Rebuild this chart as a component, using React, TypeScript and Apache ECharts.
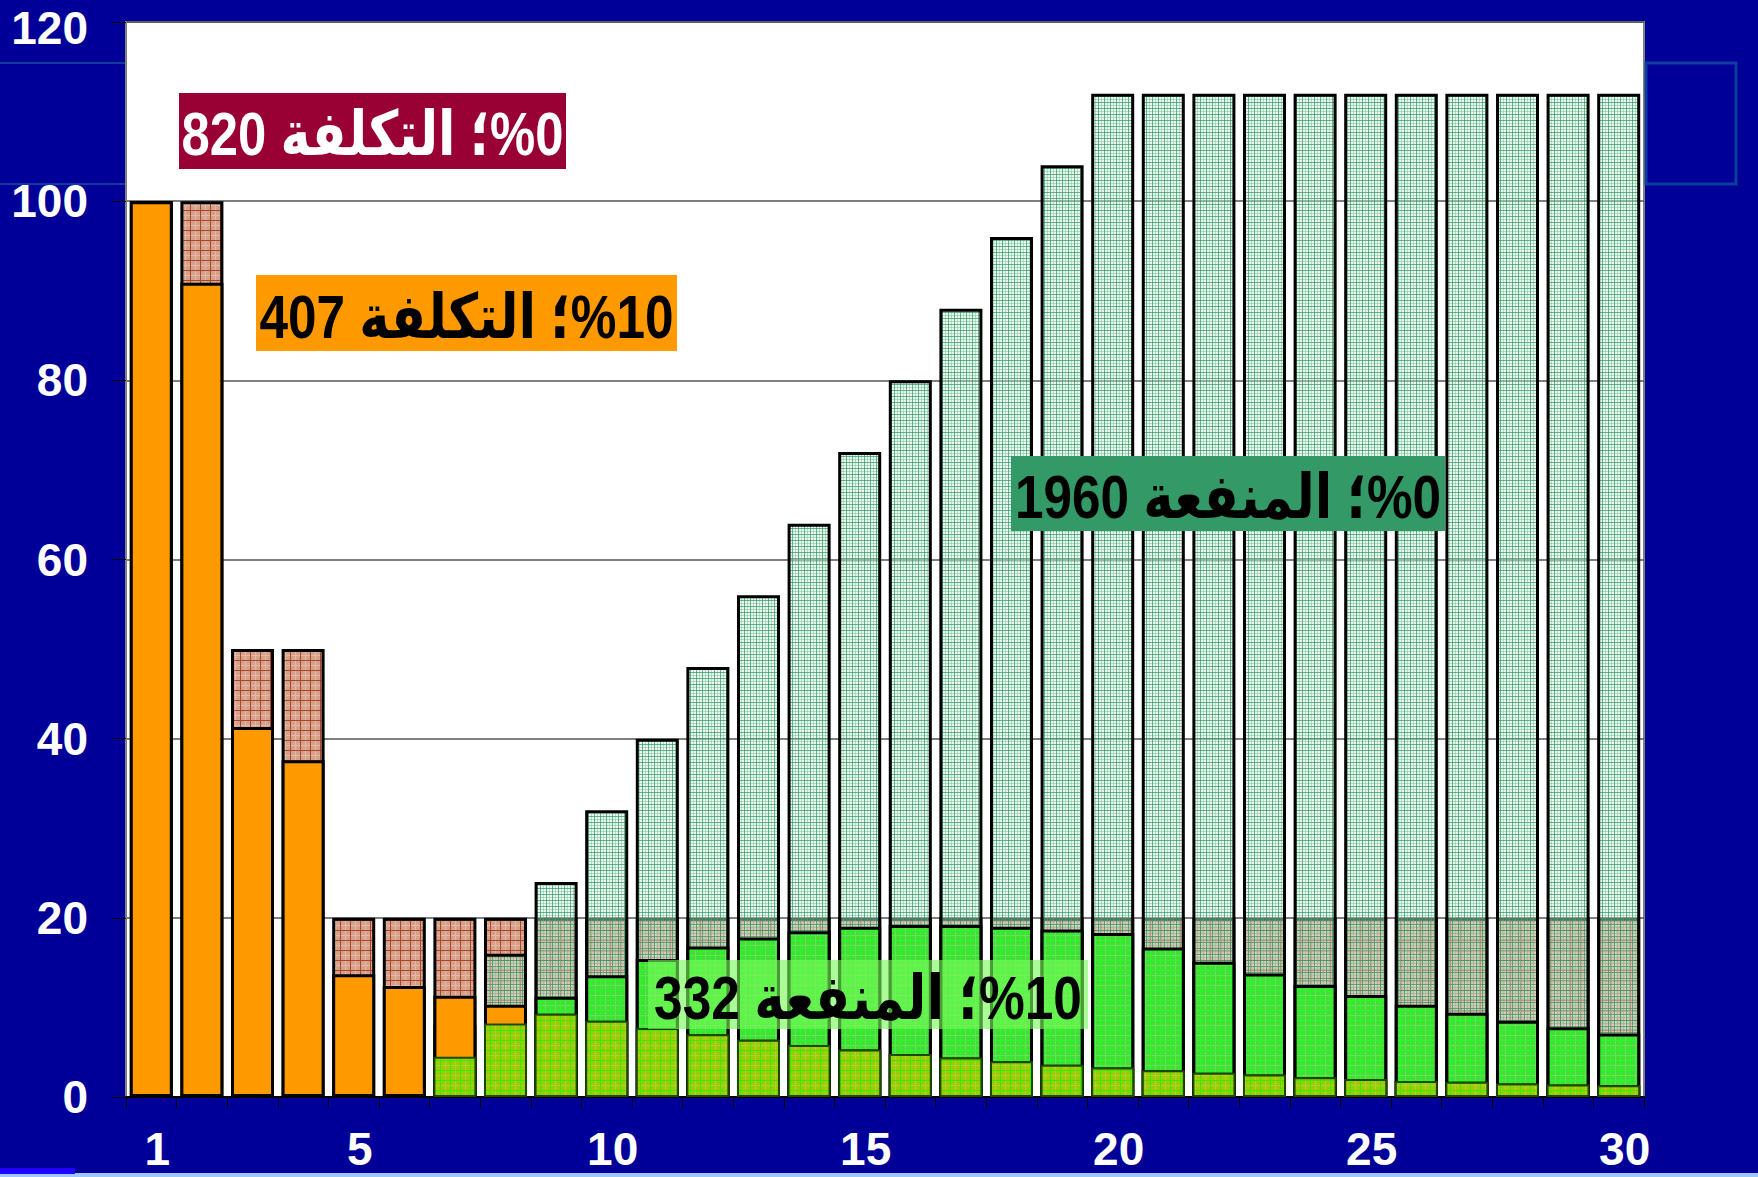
import React, { useEffect, useRef } from "react";
import * as echarts from "echarts";

// ---------- data ----------
const categories = [
  "1", "2", "3", "4", "5", "6", "7", "8", "9", "10",
  "11", "12", "13", "14", "15", "16", "17", "18", "19", "20",
  "21", "22", "23", "24", "25", "26", "27", "28", "29", "30",
];
const xTickLabels = ["1", "5", "10", "15", "20", "25", "30"];
const yMin = 0;
const yMax = 120;
const yStep = 20;

// cost, 0% discount (brown hatched)
const cost0 = [
  100, 100, 50, 50, 20, 20, 20, 20, 20, 20,
  20, 20, 20, 20, 20, 20, 20, 20, 20, 20,
  20, 20, 20, 20, 20, 20, 20, 20, 20, 20,
];
// benefit, 0% discount (light green hatched)
const benefit0 = [
  null, null, null, null, null, null, 8, 16, 24, 32,
  40, 48, 56, 64, 72, 80, 88, 96, 104, 112,
  112, 112, 112, 112, 112, 112, 112, 112, 112, 112,
];
// cost, 10% discount (orange)
const cost10 = [
  100, 90.9, 41.3, 37.6, 13.7, 12.4, 11.3, 10.3, 9.3, 8.5,
  7.7, 7.0, 6.4, 5.8, 5.3, 4.8, 4.4, 4.0, 3.6, 3.3,
  3.0, 2.7, 2.5, 2.2, 2.0, 1.8, 1.7, 1.5, 1.4, 1.3,
];
// benefit, 10% discount (green)
const benefit10 = [
  null, null, null, null, null, null, 4.5, 8.2, 11.2, 13.6,
  15.4, 16.8, 17.8, 18.5, 19.0, 19.2, 19.2, 19.0, 18.7, 18.3,
  16.7, 15.1, 13.8, 12.5, 11.4, 10.3, 9.4, 8.5, 7.8, 7.1,
];

// annotation texts (totals)
const boxTexts = [
  "%0؛ التكلفة 820",
  "%10؛ التكلفة 407",
  "%0؛ المنفعة 1960",
  "%10؛ المنفعة 332",
];

// ---------- helpers ----------
function tile(
  size: number,
  bg: string,
  line: string,
  fineLine?: string,
  fineStep?: number
) {
  const c = document.createElement("canvas");
  c.width = size;
  c.height = size;
  const ctx = c.getContext("2d")!;
  ctx.clearRect(0, 0, size, size);
  ctx.fillStyle = bg;
  ctx.fillRect(0, 0, size, size);
  if (fineLine && fineStep) {
    ctx.fillStyle = fineLine;
    for (let p = fineStep; p < size; p += fineStep) {
      ctx.fillRect(0, p, size, 1);
      ctx.fillRect(p, 0, 1, size);
    }
  }
  ctx.fillStyle = line;
  ctx.fillRect(0, 0, size, 1);
  ctx.fillRect(0, 0, 1, size);
  return {
    image: c.toDataURL(),
    repeat: "repeat",
    imageWidth: size,
    imageHeight: size,
  } as any;
}

const FONT = '"Liberation Sans", "DejaVu Sans", Arial, sans-serif';
const RLI = "\u2067";
const PDI = "\u2069";
const BOX_FONT_SIZE = 62;
const AXIS_FONT_SIZE = 46;

function measure(text: string, size: number) {
  const c = document.createElement("canvas");
  const ctx = c.getContext("2d")!;
  ctx.font = `bold ${size}px ${FONT}`;
  return ctx.measureText(text).width;
}

export default function App() {
  const ref = useRef<HTMLDivElement>(null);

  useEffect(() => {
    document.body.style.margin = "0";
    const chart = echarts.init(ref.current!, undefined, { renderer: "svg" });

    const brown = tile(10, "#D6A08A", "#A8482A", "#E2B8A6", 5);
    const mint = tile(
      6,
      "rgba(215,240,225,0.45)",
      "rgba(40,150,100,0.7)",
      "rgba(90,180,130,0.4)",
      3
    );
    const green = tile(10, "#46DC3A", "#22FF22", "#5CE850", 5);
    const olive = tile(10, "#9CCB08", "#33F000", "#B0D030", 5);

    // part of each bar where the discounted benefit and cost overlap
    const overlap10 = benefit10.map((b, i) =>
      b == null ? null : Math.min(b, cost10[i])
    );

    const barBase = {
      type: "bar",
      barWidth: "85%",
      barGap: "-100%",
      animation: false,
    };

    const boxes = [
      { x: 179, y: 93, w: 387, h: 76, tw: 382, fill: "#990033", color: "#ffffff" },
      { x: 256, y: 275, w: 421, h: 76, tw: 414, fill: "#FF9900", color: "#000000" },
      { x: 1011, y: 456, w: 434, h: 75, tw: 426, fill: "#339966", color: "#000000" },
      { x: 648, y: 960, w: 440, h: 69, tw: 428, fill: "rgba(120,250,90,0.62)", color: "#000000" },
    ];

    const graphics: any[] = [
      // slide frame decoration
      { type: "rect", shape: { x: 0, y: 62, width: 126, height: 2 }, style: { fill: "#0F3D9E" }, z: 0 },
      { type: "rect", shape: { x: 0, y: 183, width: 126, height: 2 }, style: { fill: "#0F3D9E" }, z: 0 },
      { type: "rect", shape: { x: 1646, y: 63, width: 90, height: 121 }, style: { fill: "none", stroke: "#0F3D9E", lineWidth: 3 }, z: 0 },
      // bottom decorations
      { type: "rect", shape: { x: 0, y: 1173, width: 1758, height: 4 }, style: { fill: "#9CC8FF" }, z: 0 },
      { type: "rect", shape: { x: 0, y: 1168, width: 75, height: 6 }, style: { fill: "#2200FF" }, z: 0 },
    ];
    boxes.forEach((b, i) => {
      const txt = RLI + boxTexts[i] + PDI;
      const natural = measure(txt, BOX_FONT_SIZE);
      const sx = natural > 0 ? b.tw / natural : 1;
      graphics.push({
        type: "rect",
        shape: { x: b.x, y: b.y, width: b.w, height: b.h },
        style: { fill: b.fill },
        z: 100,
      });
      graphics.push({
        type: "text",
        x: b.x + b.w / 2,
        y: b.y + b.h / 2 + 3,
        scaleX: sx,
        style: {
          text: txt,
          fill: b.color,
          fontSize: BOX_FONT_SIZE,
          fontWeight: "bold",
          fontFamily: FONT,
          align: "center",
          verticalAlign: "middle",
        },
        z: 101,
      });
    });

    const axisText = {
      color: "#ffffff",
      fontSize: AXIS_FONT_SIZE,
      fontWeight: "bold",
      fontFamily: FONT,
    };

    chart.setOption({
      animation: false,
      backgroundColor: "#000099",
      grid: {
        left: 126,
        top: 22,
        right: 114,
        bottom: 80,
        show: true,
        backgroundColor: "#ffffff",
        borderColor: "#808080",
        borderWidth: 2,
        containLabel: false,
        outerBoundsMode: "none",
      },
      xAxis: {
        type: "category",
        data: categories,
        boundaryGap: true,
        axisLine: { show: true, lineStyle: { color: "#000000", width: 2 } },
        axisTick: {
          show: true,
          interval: 0,
          alignWithLabel: false,
          length: 11,
          lineStyle: { color: "#000000", width: 1 },
        },
        axisLabel: {
          ...axisText,
          interval: (_i: number, v: string) => xTickLabels.includes(v),
          lineHeight: AXIS_FONT_SIZE,
          margin: 29,
          padding: [0, 0, 0, 12],
        },
        splitLine: { show: false },
      },
      yAxis: {
        type: "value",
        min: yMin,
        max: yMax,
        interval: yStep,
        axisLine: { show: true, lineStyle: { color: "#808080", width: 2 } },
        axisTick: { show: true, length: 14, lineStyle: { color: "#000000", width: 1 } },
        axisLabel: {
          ...axisText,
          lineHeight: AXIS_FONT_SIZE,
          margin: 38,
          formatter: (v: number) => (v === yMax ? `{top|${v}}` : `${v}`),
          rich: {
            top: {
              ...axisText,
              lineHeight: AXIS_FONT_SIZE,
              padding: [12, 0, 0, 0],
            },
          },
        },
        splitLine: { show: true, lineStyle: { color: "#555555", width: 1.5 } },
      },
      series: [
        {
          ...barBase,
          name: "cost0",
          data: cost0,
          itemStyle: { color: brown, borderColor: "#000000", borderWidth: 3 },
          z: 2,
        },
        {
          ...barBase,
          name: "benefit0",
          data: benefit0,
          itemStyle: { color: mint, borderColor: "#000000", borderWidth: 3 },
          z: 3,
        },
        {
          ...barBase,
          name: "benefit10",
          data: benefit10,
          itemStyle: { color: green, borderColor: "#000000", borderWidth: 3 },
          z: 4,
        },
        {
          ...barBase,
          name: "cost10",
          data: cost10,
          itemStyle: { color: "#FF9900", borderColor: "#000000", borderWidth: 3 },
          z: 5,
        },
        {
          ...barBase,
          name: "overlap10",
          data: overlap10,
          itemStyle: { color: olive, borderColor: "#1A4A00", borderWidth: 2 },
          z: 6,
        },
      ],
      graphic: graphics,
    });

    return () => chart.dispose();
  }, []);

  return (
    <div
      ref={ref}
      style={{ position: "fixed", left: 0, top: 0, width: 1758, height: 1177 }}
    />
  );
}
